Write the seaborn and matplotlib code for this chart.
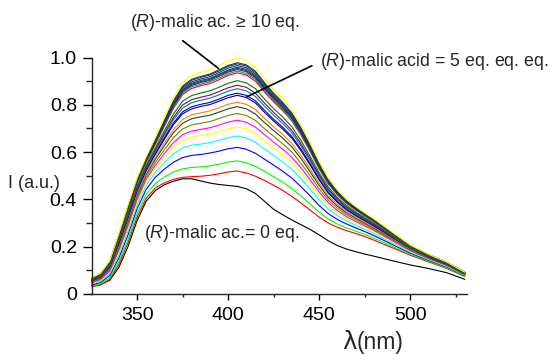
import matplotlib
matplotlib.use("Agg")
import matplotlib.pyplot as plt
import seaborn as sns
import pandas as pd

# ---------------- data ----------------
wavelength = [325, 330, 335, 340, 345, 350, 355, 360, 365, 370, 375, 380, 385, 390, 395,
              400, 405, 410, 415, 420, 425, 430, 435, 440, 445, 450, 455, 460, 465, 470,
              475, 480, 490, 500, 510, 520, 530]

eq_0 = [0.035, 0.040, 0.058, 0.112, 0.200, 0.310, 0.392, 0.437, 0.462, 0.477, 0.487, 0.487, 0.478,
        0.469, 0.463, 0.459, 0.455, 0.445, 0.425, 0.392, 0.358, 0.335, 0.313, 0.293, 0.273, 0.250,
        0.225, 0.205, 0.190, 0.179, 0.169, 0.160, 0.141, 0.123, 0.108, 0.090, 0.062]
eq_a = [0.030, 0.038, 0.062, 0.125, 0.215, 0.325, 0.405, 0.448, 0.470, 0.485, 0.493, 0.496, 0.498,
        0.502, 0.508, 0.516, 0.520, 0.512, 0.498, 0.480, 0.460, 0.438, 0.413, 0.385, 0.355, 0.325,
        0.300, 0.282, 0.268, 0.256, 0.243, 0.228, 0.196, 0.164, 0.136, 0.108, 0.074]
eq_b = [0.033, 0.043, 0.069, 0.137, 0.229, 0.340, 0.421, 0.467, 0.495, 0.516, 0.529, 0.535, 0.538,
        0.542, 0.549, 0.558, 0.563, 0.555, 0.540, 0.519, 0.496, 0.473, 0.446, 0.415, 0.381, 0.346,
        0.317, 0.296, 0.280, 0.266, 0.252, 0.236, 0.202, 0.168, 0.139, 0.110, 0.076]
eq_c = [0.038, 0.049, 0.078, 0.152, 0.249, 0.360, 0.442, 0.493, 0.528, 0.557, 0.577, 0.586, 0.590,
        0.596, 0.604, 0.614, 0.620, 0.612, 0.595, 0.570, 0.545, 0.519, 0.490, 0.454, 0.415, 0.374,
        0.340, 0.315, 0.296, 0.280, 0.264, 0.247, 0.210, 0.173, 0.143, 0.114, 0.078]
eq_d = [0.042, 0.054, 0.086, 0.165, 0.265, 0.376, 0.459, 0.514, 0.555, 0.592, 0.618, 0.629, 0.634,
        0.640, 0.650, 0.661, 0.668, 0.660, 0.641, 0.613, 0.586, 0.558, 0.527, 0.487, 0.443, 0.398,
        0.359, 0.331, 0.309, 0.291, 0.274, 0.256, 0.216, 0.177, 0.146, 0.116, 0.080]
eq_e = [0.045, 0.058, 0.092, 0.176, 0.277, 0.389, 0.473, 0.531, 0.577, 0.620, 0.650, 0.663, 0.670,
        0.676, 0.687, 0.699, 0.706, 0.698, 0.678, 0.648, 0.618, 0.589, 0.556, 0.514, 0.466, 0.417,
        0.374, 0.344, 0.319, 0.300, 0.282, 0.263, 0.222, 0.181, 0.148, 0.119, 0.081]
eq_f = [0.047, 0.061, 0.097, 0.184, 0.287, 0.399, 0.484, 0.543, 0.594, 0.640, 0.674, 0.689, 0.696,
        0.703, 0.714, 0.727, 0.735, 0.726, 0.706, 0.674, 0.642, 0.612, 0.578, 0.534, 0.483, 0.431,
        0.386, 0.353, 0.327, 0.307, 0.288, 0.269, 0.226, 0.183, 0.150, 0.120, 0.082]
eq_g = [0.049, 0.064, 0.102, 0.191, 0.297, 0.409, 0.494, 0.556, 0.610, 0.661, 0.698, 0.715, 0.722,
        0.729, 0.742, 0.755, 0.763, 0.755, 0.734, 0.699, 0.667, 0.635, 0.600, 0.553, 0.500, 0.445,
        0.397, 0.363, 0.335, 0.314, 0.294, 0.274, 0.230, 0.186, 0.152, 0.122, 0.083]
eq_h = [0.052, 0.067, 0.106, 0.199, 0.306, 0.419, 0.505, 0.569, 0.627, 0.682, 0.722, 0.741, 0.749,
        0.756, 0.769, 0.783, 0.792, 0.783, 0.761, 0.725, 0.691, 0.659, 0.622, 0.573, 0.517, 0.459,
        0.408, 0.372, 0.343, 0.321, 0.300, 0.279, 0.234, 0.189, 0.154, 0.123, 0.084]
eq_i = [0.053, 0.069, 0.110, 0.204, 0.313, 0.426, 0.512, 0.577, 0.638, 0.695, 0.738, 0.758, 0.766,
        0.774, 0.787, 0.802, 0.811, 0.802, 0.780, 0.742, 0.707, 0.674, 0.637, 0.586, 0.529, 0.468,
        0.416, 0.378, 0.349, 0.326, 0.304, 0.283, 0.236, 0.190, 0.156, 0.124, 0.085]
eq_j = [0.055, 0.072, 0.114, 0.212, 0.322, 0.436, 0.522, 0.590, 0.654, 0.716, 0.762, 0.783, 0.793,
        0.801, 0.815, 0.830, 0.840, 0.831, 0.808, 0.768, 0.731, 0.697, 0.659, 0.606, 0.546, 0.482,
        0.427, 0.388, 0.356, 0.332, 0.310, 0.288, 0.240, 0.193, 0.157, 0.126, 0.086]
eq_k = [0.056, 0.073, 0.116, 0.215, 0.325, 0.439, 0.526, 0.594, 0.660, 0.723, 0.770, 0.792, 0.802,
        0.810, 0.824, 0.840, 0.849, 0.840, 0.817, 0.777, 0.739, 0.705, 0.666, 0.613, 0.552, 0.487,
        0.431, 0.391, 0.359, 0.335, 0.312, 0.290, 0.242, 0.194, 0.158, 0.127, 0.086]
eq_l = [0.058, 0.075, 0.119, 0.220, 0.332, 0.445, 0.533, 0.603, 0.671, 0.737, 0.786, 0.809, 0.819,
        0.828, 0.842, 0.858, 0.868, 0.859, 0.835, 0.794, 0.756, 0.721, 0.681, 0.626, 0.563, 0.497,
        0.439, 0.397, 0.364, 0.339, 0.316, 0.294, 0.244, 0.195, 0.159, 0.128, 0.087]
eq_m = [0.059, 0.076, 0.121, 0.224, 0.337, 0.450, 0.538, 0.609, 0.679, 0.747, 0.799, 0.822, 0.832,
        0.841, 0.856, 0.872, 0.883, 0.874, 0.849, 0.807, 0.768, 0.732, 0.692, 0.636, 0.572, 0.504,
        0.444, 0.402, 0.368, 0.343, 0.319, 0.296, 0.246, 0.197, 0.160, 0.129, 0.088]
eq_n = [0.060, 0.078, 0.124, 0.229, 0.343, 0.457, 0.545, 0.618, 0.690, 0.761, 0.815, 0.839, 0.850,
        0.859, 0.874, 0.891, 0.902, 0.893, 0.868, 0.824, 0.784, 0.748, 0.707, 0.649, 0.583, 0.513,
        0.452, 0.408, 0.374, 0.347, 0.323, 0.300, 0.249, 0.198, 0.162, 0.130, 0.088]
eq_o = [0.063, 0.082, 0.130, 0.238, 0.354, 0.469, 0.557, 0.632, 0.709, 0.785, 0.843, 0.869, 0.881,
        0.890, 0.906, 0.924, 0.935, 0.926, 0.900, 0.854, 0.812, 0.775, 0.732, 0.672, 0.603, 0.529,
        0.465, 0.419, 0.383, 0.355, 0.330, 0.306, 0.253, 0.201, 0.164, 0.131, 0.090]
eq_p = [0.064, 0.082, 0.131, 0.240, 0.357, 0.471, 0.560, 0.636, 0.713, 0.790, 0.849, 0.876, 0.887,
        0.897, 0.913, 0.931, 0.942, 0.933, 0.907, 0.861, 0.818, 0.780, 0.738, 0.677, 0.607, 0.533,
        0.468, 0.422, 0.385, 0.357, 0.332, 0.308, 0.254, 0.202, 0.164, 0.132, 0.090]
eq_q = [0.064, 0.083, 0.132, 0.242, 0.359, 0.474, 0.563, 0.639, 0.718, 0.796, 0.855, 0.882, 0.894,
        0.903, 0.920, 0.938, 0.949, 0.940, 0.914, 0.867, 0.825, 0.786, 0.743, 0.682, 0.612, 0.537,
        0.471, 0.424, 0.387, 0.359, 0.333, 0.309, 0.255, 0.203, 0.165, 0.132, 0.090]
eq_r = [0.065, 0.084, 0.133, 0.243, 0.361, 0.475, 0.564, 0.641, 0.720, 0.799, 0.859, 0.886, 0.898,
        0.908, 0.925, 0.943, 0.954, 0.945, 0.918, 0.871, 0.829, 0.790, 0.747, 0.685, 0.614, 0.539,
        0.473, 0.426, 0.388, 0.360, 0.334, 0.310, 0.256, 0.203, 0.165, 0.133, 0.090]
eq_s = [0.065, 0.084, 0.134, 0.245, 0.362, 0.477, 0.566, 0.643, 0.723, 0.802, 0.863, 0.891, 0.903,
        0.912, 0.929, 0.947, 0.959, 0.950, 0.923, 0.876, 0.833, 0.794, 0.751, 0.689, 0.617, 0.541,
        0.475, 0.427, 0.389, 0.361, 0.335, 0.311, 0.257, 0.204, 0.165, 0.133, 0.091]
eq_t = [0.066, 0.085, 0.135, 0.247, 0.365, 0.479, 0.569, 0.646, 0.727, 0.808, 0.869, 0.897, 0.909,
        0.919, 0.936, 0.955, 0.966, 0.957, 0.930, 0.882, 0.839, 0.800, 0.756, 0.694, 0.621, 0.545,
        0.478, 0.430, 0.391, 0.363, 0.337, 0.312, 0.258, 0.204, 0.166, 0.133, 0.091]
eq_u = [0.066, 0.086, 0.136, 0.249, 0.367, 0.482, 0.571, 0.649, 0.731, 0.813, 0.875, 0.904, 0.916,
        0.926, 0.943, 0.962, 0.973, 0.964, 0.937, 0.889, 0.845, 0.806, 0.762, 0.699, 0.626, 0.548,
        0.481, 0.432, 0.393, 0.364, 0.338, 0.314, 0.259, 0.205, 0.166, 0.134, 0.091]
eq_v = [0.066, 0.086, 0.137, 0.250, 0.369, 0.483, 0.573, 0.652, 0.734, 0.816, 0.879, 0.908, 0.920,
        0.930, 0.948, 0.966, 0.978, 0.969, 0.942, 0.893, 0.849, 0.810, 0.765, 0.702, 0.629, 0.551,
        0.482, 0.434, 0.395, 0.365, 0.339, 0.314, 0.259, 0.205, 0.167, 0.134, 0.092]
eq_top = [0.068, 0.088, 0.140, 0.255, 0.375, 0.490, 0.580, 0.660, 0.745, 0.830, 0.895, 0.925, 0.938,
          0.948, 0.966, 0.985, 0.997, 0.988, 0.960, 0.910, 0.865, 0.825, 0.780, 0.715, 0.640, 0.560,
          0.490, 0.440, 0.400, 0.370, 0.343, 0.318, 0.262, 0.207, 0.168, 0.135, 0.092]

series = [eq_0, eq_a, eq_b, eq_c, eq_d, eq_e, eq_f, eq_g, eq_h, eq_i, eq_j, eq_k,
          eq_l, eq_m, eq_n, eq_o, eq_p, eq_q, eq_r, eq_s, eq_t, eq_u, eq_v, eq_top]
series_names = ["s%02d" % i for i in range(len(series))]
series_colors = ["#000000", "#ff0000", "#00ff00", "#0000ff", "#00ffff", "#ffff00",
                 "#ff00ff", "#808000", "#1a4d1a", "#ff8000", "#000080", "#0000cd",
                 "#008080", "#800080", "#008000", "#ff0000", "#2a8a9a",
                 "#1c3b5e", "#1c3b5e", "#1c3b5e", "#1c3b5e", "#1c3b5e", "#1c3b5e",
                 "#ffff00"]

x_ticks = [350, 400, 450, 500]
y_ticks = [0, 0.2, 0.4, 0.6, 0.8, 1.0]
y_tick_labels = ["0", "0.2", "0.4", "0.6", "0.8", "1.0"]

# ---------------- figure ----------------
sns.set_style("ticks")
plt.rcParams["font.family"] = ["Liberation Sans", "DejaVu Sans"]
plt.rcParams["mathtext.fontset"] = "custom"
plt.rcParams["mathtext.rm"] = "Liberation Sans"
plt.rcParams["mathtext.it"] = "Liberation Sans:italic"

rows = []
for name, vals in zip(series_names, series):
    for w, v in zip(wavelength, vals):
        rows.append({"wl": w, "I": v, "curve": name})
df = pd.DataFrame(rows)

fig = plt.figure(figsize=(5.5, 3.54), dpi=100)
ax = fig.add_axes([91.5 / 550, 60 / 354, (466.7 - 91.5) / 550, (294 - 57.5) / 354])

sns.lineplot(data=df, x="wl", y="I", hue="curve", hue_order=series_names,
             palette=dict(zip(series_names, series_colors)), estimator=None,
             sort=False, linewidth=0.8, legend=False, ax=ax)
for ln in ax.get_lines():
    ln.set_clip_on(False)
    ln.set_solid_joinstyle("round")

ax.set_xlim(325, 531)
ax.set_ylim(0, 1.0)
sns.despine(ax=ax)
ax.spines["left"].set_linewidth(1.0)
ax.spines["bottom"].set_linewidth(1.0)

ax.set_xticks(x_ticks)
ax.set_xticks([375, 425, 475, 525], minor=True)
ax.set_yticks(y_ticks)
ax.set_yticklabels(y_tick_labels)
ax.set_yticks([0.1, 0.3, 0.5, 0.7, 0.9], minor=True)
ax.tick_params(axis="x", which="major", direction="out", length=4.3, width=1.0,
               labelsize=14, pad=5, colors="black")
ax.tick_params(axis="x", which="minor", direction="out", length=2.4, width=1.0)
ax.tick_params(axis="y", which="major", direction="out", length=6.5, width=1.0,
               labelsize=14, pad=4, colors="black")
ax.tick_params(axis="y", which="minor", direction="out", length=4.0, width=1.0)
ax.set_xlabel("")
ax.set_ylabel("")

# axis labels
fig.text(60 / 550, 1 - 184 / 354, "I (a.u.)", fontsize=13, ha="right", va="center")
fig.text(349 / 550, 1 - 349 / 354, "λ", fontsize=17.5, ha="center", va="baseline",
         family=["DejaVu Sans"])
fig.text(357 / 550, 1 - 349 / 354, "(nm)", fontsize=16.5, ha="left", va="baseline")

# annotations
ax.text(393, 1.15, "($\\mathit{R}$)-malic ac. ≥ 10 eq.", fontsize=12.8,
        ha="center", va="center")
ax.annotate("", xy=(394.7, 0.954), xytext=(375.1, 1.071),
            arrowprops=dict(arrowstyle="-", lw=1.2, color="black",
                            shrinkA=0, shrinkB=0), annotation_clip=False)
ax.text(450.6, 0.981, "($\\mathit{R}$)-malic acid = 5 eq. eq. eq.", fontsize=12.8,
        ha="left", va="center")
ax.annotate("", xy=(410.3, 0.834), xytext=(446, 0.965),
            arrowprops=dict(arrowstyle="-", lw=1.2, color="black",
                            shrinkA=0, shrinkB=0), annotation_clip=False)
ax.text(353.6, 0.257, "($\\mathit{R}$)-malic ac.= 0 eq.", fontsize=12.8,
        ha="left", va="center")

fig.savefig("out.png", dpi=100)
